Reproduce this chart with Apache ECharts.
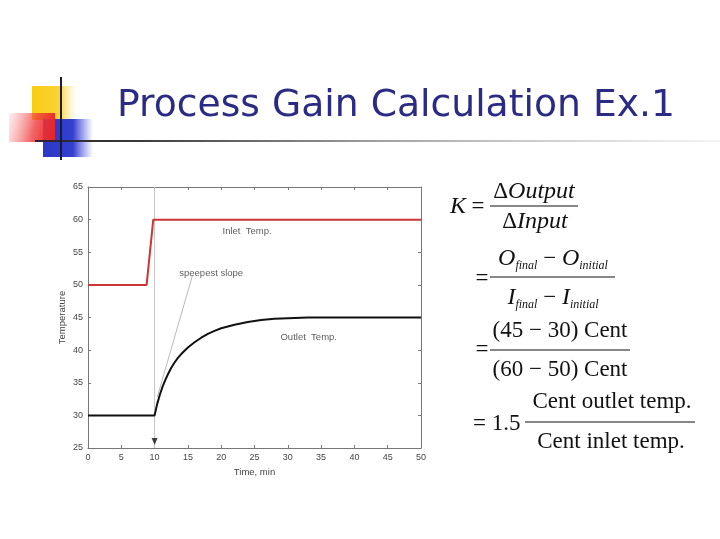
<!DOCTYPE html>
<html>
<head>
<meta charset="utf-8">
<script src="https://cdn.jsdelivr.net/npm/echarts@6/dist/echarts.min.js"></script>
<style>
html,body{margin:0;padding:0;background:#fff;}
#c{width:720px;height:539px;}
</style>
</head>
<body>
<div id="c"></div>
<script>
// ---- data ----
var xTicks = [0, 5, 10, 15, 20, 25, 30, 35, 40, 45, 50];
var yTicks = [25, 30, 35, 40, 45, 50, 55, 60, 65];
var inletTemp = [[0, 50], [8.8, 50], [9.8, 60], [50, 60]];
var outletTemp = [[0, 30], [10, 30], [10.4, 31.8], [10.8, 33.2], [11.2, 34.4], [11.6, 35.4], [12, 36.3],
  [12.5, 37.3], [13, 38.1], [13.5, 38.8], [14, 39.4], [15, 40.4], [16, 41.2], [17, 41.9], [18, 42.5],
  [19, 42.95], [20, 43.35], [22, 43.9], [24, 44.3], [26, 44.6], [28, 44.8], [30, 44.9], [33, 45.0], [50, 45.0]];
var stepLine = [[10, 25], [10, 65]];
var slopeLine = [[15.7, 51.5], [10.4, 32.8]];
var arrowPoint = [[10, 26.0]];
var annotations = [
  { name: 'Inlet  Temp.', value: [20.2, 58.2] },
  { name: 'speepest slope', value: [13.7, 51.7] },
  { name: 'Outlet  Temp.', value: [28.9, 41.9] }
];
var titleText = 'Process Gain Calculation Ex.1';

var chart = echarts.init(document.getElementById('c'), null, { renderer: 'canvas', width: 720, height: 539 });

var axisColor = '#777';
var labelColor = '#444';
var sansFont = 'Liberation Sans, Arial, sans-serif';
var serif = 'Liberation Serif, Times New Roman, serif';

function xAx(pos, showLabel) {
  return {
    type: 'value', min: xTicks[0], max: xTicks[xTicks.length - 1], interval: xTicks[1] - xTicks[0],
    position: pos,
    axisLine: { onZero: false, lineStyle: { color: axisColor, width: 1 } },
    axisTick: { inside: true, length: 3, lineStyle: { color: axisColor } },
    axisLabel: { show: showLabel, fontSize: 9, color: labelColor, margin: 5, fontFamily: sansFont },
    splitLine: { show: false },
    name: showLabel ? 'Time, min' : '', nameLocation: 'middle', nameGap: 19,
    nameTextStyle: { fontSize: 9.5, color: labelColor, fontFamily: sansFont }
  };
}
function yAx(pos, showLabel) {
  return {
    type: 'value', min: yTicks[0], max: yTicks[yTicks.length - 1], interval: yTicks[1] - yTicks[0],
    position: pos,
    axisLine: { onZero: false, lineStyle: { color: axisColor, width: 1 } },
    axisTick: { inside: true, length: 3, lineStyle: { color: axisColor } },
    axisLabel: { show: showLabel, fontSize: 9, color: labelColor, margin: 5, fontFamily: sansFont },
    splitLine: { show: false },
    name: showLabel ? 'Temperature' : '', nameLocation: 'middle', nameGap: 21, nameRotate: 90,
    nameTextStyle: { fontSize: 9.5, color: labelColor, fontFamily: sansFont }
  };
}

// title width fit
var titleSize = 38;
var titleFont = 'DejaVu Sans';
var mctx = document.createElement('canvas').getContext('2d');
mctx.font = titleSize + 'px "' + titleFont + '"';
var tw = mctx.measureText(titleText).width;
var titleScale = 558 / tw;

var it = { fontFamily: serif, fontStyle: 'italic', fontSize: 24, lineHeight: 26, color: '#111' };
var up = { fontFamily: serif, fontSize: 23, lineHeight: 26, color: '#111' };
var sb = { fontFamily: serif, fontStyle: 'italic', fontSize: 12, lineHeight: 12, verticalAlign: 'bottom', color: '#111' };
var richF = { it: it, up: up, sb: sb };

function t(x, y, text, align) {
  var st = { text: text, x: 0, y: 0, align: align || 'center', verticalAlign: 'middle', rich: richF, fontFamily: serif, fontSize: 23, fill: '#111' };
  return { type: 'text', x: x, y: y, style: st, z: 10 };
}
function hl(x1, x2, y) {
  return { type: 'line', shape: { x1: x1, y1: y, x2: x2, y2: y }, style: { stroke: '#111', lineWidth: 1.2 }, z: 10 };
}

var graphics = [
  // title decoration
  { type: 'rect', shape: { x: 32, y: 86, width: 45, height: 34 }, style: { fill: new echarts.graphic.LinearGradient(0, 0, 1, 0, [
    { offset: 0, color: '#f8cd10' }, { offset: 0.6, color: '#fad335' }, { offset: 1, color: 'rgba(255,235,150,0)' }]) }, z: 1 },
  { type: 'rect', shape: { x: 43, y: 119, width: 50, height: 38 }, style: { fill: new echarts.graphic.LinearGradient(0, 0, 1, 0, [
    { offset: 0, color: '#2c37c8' }, { offset: 0.6, color: '#3440d0' }, { offset: 1, color: 'rgba(80,90,230,0)' }]) }, z: 1 },
  { type: 'rect', shape: { x: 9, y: 113, width: 46, height: 29 }, style: { fill: new echarts.graphic.LinearGradient(0, 0, 1, 0.4, [
    { offset: 0, color: 'rgba(245,120,120,0.12)' }, { offset: 0.6, color: 'rgba(240,60,60,0.8)' }, { offset: 1, color: '#e8262a' }]) }, z: 2 },
  { type: 'line', shape: { x1: 35, y1: 141, x2: 720, y2: 141 }, style: { lineWidth: 2.2, stroke: new echarts.graphic.LinearGradient(0, 0, 1, 0, [
    { offset: 0, color: '#2a2030' }, { offset: 0.15, color: '#3a3a3a' }, { offset: 0.5, color: '#a0a0a0' }, { offset: 1, color: 'rgba(235,235,235,0.6)' }]) }, z: 3 },
  { type: 'line', shape: { x1: 61, y1: 77, x2: 61, y2: 160 }, style: { lineWidth: 2, stroke: '#1c1c30' }, z: 4 },
  { type: 'text', x: 117, y: 106, scaleX: titleScale, style: { text: titleText, x: 0, y: 0, align: 'left', verticalAlign: 'middle',
    fontFamily: titleFont, fontSize: titleSize, fill: '#2b2b85' }, z: 5 },
  // formulas
  t(458, 207, '{it|K}'),
  t(478, 207, '{up|=}'),
  t(534, 192, '{up|Δ}{it|Output}'),
  hl(490, 578, 206),
  t(535, 222, '{up|Δ}{it|Input}'),
  t(482, 279, '{up|=}'),
  t(553, 259, '{it|O}{sb|final}{up| − }{it|O}{sb|initial}'),
  hl(490, 615, 277),
  t(553, 298, '{it|I}{sb|final}{up| − }{it|I}{sb|initial}'),
  t(482, 350, '{up|=}'),
  t(560, 331, '{up|(45 − 30) Cent}'),
  hl(490, 630, 350),
  t(560, 370, '{up|(60 − 50) Cent}'),
  t(473, 424, '{up|= 1.5}', 'left'),
  t(612, 402, '{up|Cent outlet temp.}'),
  hl(525, 695, 422),
  t(611, 442, '{up|Cent inlet temp.}')
];

var option = {
  backgroundColor: '#ffffff',
  animation: false,
  grid: { left: 88, top: 187, width: 333, height: 261, containLabel: false },
  xAxis: [xAx('bottom', true), xAx('top', false)],
  yAxis: [yAx('left', true), yAx('right', false)],
  series: [
    { type: 'line', data: stepLine, symbol: 'none', lineStyle: { color: '#c4c4c4', width: 1 }, z: 1 },
    { type: 'line', data: slopeLine, symbol: 'none', lineStyle: { color: '#a8a8a8', width: 0.8 }, z: 1 },
    { type: 'line', name: 'Inlet Temp.', data: inletTemp, symbol: 'none', lineStyle: { color: '#cc3535', width: 2 }, z: 3 },
    { type: 'line', name: 'Outlet Temp.', data: outletTemp, symbol: 'none',
      lineStyle: { color: '#111', width: 2, join: 'round' }, z: 3 },
    { type: 'scatter', data: arrowPoint, symbol: 'triangle', symbolRotate: 180, symbolSize: [6, 7],
      itemStyle: { color: '#111' }, z: 4 },
    { type: 'scatter', data: annotations, symbolSize: 0, z: 5,
      label: { show: true, position: 'right', distance: 0, formatter: '{b}', fontSize: 9.5, color: '#333', fontFamily: sansFont } }
  ],
  graphic: graphics
};
chart.setOption(option);
</script>
</body>
</html>
